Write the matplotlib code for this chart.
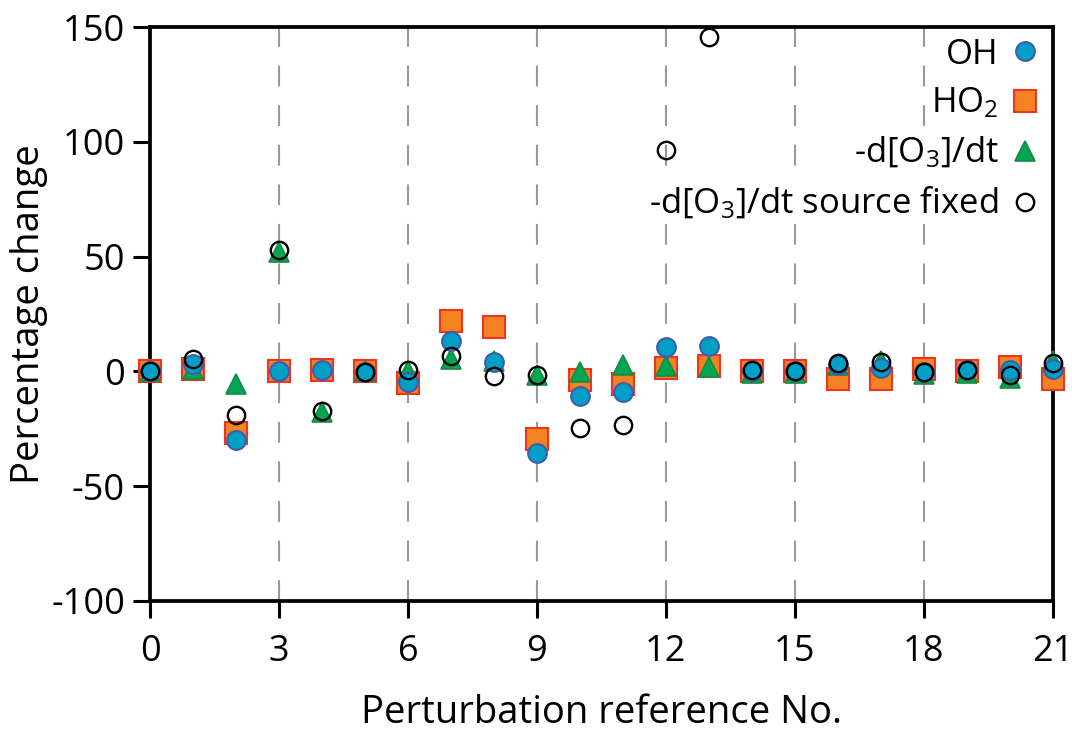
import numpy as np
import matplotlib.pyplot as plt

plt.rcParams['font.family'] = ['Open Sans', 'DejaVu Sans']
plt.rcParams['mathtext.fontset'] = 'custom'
plt.rcParams['mathtext.rm'] = 'Open Sans'
plt.rcParams['mathtext.it'] = 'Open Sans'
plt.rcParams['axes.unicode_minus'] = False

ref_no = np.arange(22)

oh = [0, 3.3, -30, 0, 0.4, -0.4, -4.5, 13.3, 4.3, -35.4, -10.5, -9, 10.6, 10.9,
      0.2, 0.2, 2.6, 1.3, -0.3, 0.4, 0.4, 1.2]
ho2 = [0, 1.2, -27, 0, 0.4, 0.2, -5, 21.8, 19.3, -29.3, -3.6, -5.4, 1.5, 2.3,
       0.2, 0.2, -3.2, -3.2, 1.1, 0.2, 1.9, -3.2]
o3_loss = [0, 1, -5.4, 52, -17.6, 0, 0.3, 5.5, 4.5, -1.7, -0.3, 2.6, 2.2, 2,
           -0.5, -0.5, 3, 4.5, -1, -0.5, -3, 4.5]
o3_loss_fixed = [0, 5.5, -19.2, 52.7, -17.4, -0.4, 0.8, 6.5, -2, -1.7, -24.7, -23.2, 96.3, 145.6,
                 0.4, 0.2, 3.8, 4, -0.3, 0.8, -1.7, 3.8]

fig = plt.figure(figsize=(10.72, 7.32), dpi=100)
ax = fig.add_axes([0.140, 0.179, 0.842, 0.784])

for xv in range(3, 21, 3):
    ax.axvline(xv, color='#999999', linewidth=1.5, dashes=(10, 9), zorder=0)

ax.plot(ref_no, ho2, 's', markersize=15.5, markerfacecolor='#F58220', markeredgecolor='#EE3524',
        markeredgewidth=1.5, linestyle='none', label='HO$_2$', zorder=3, clip_on=False)
ax.plot(ref_no, o3_loss, '^', markersize=15, markerfacecolor='#00A651', markeredgecolor='#178A45',
        markeredgewidth=1.2, linestyle='none', label='-d[O$_3$]/dt', zorder=4, clip_on=False)
ax.plot(ref_no, oh, 'o', markersize=13.5, markerfacecolor='#00A0C6', markeredgecolor='#3F5DAA',
        markeredgewidth=1.5, linestyle='none', label='OH', zorder=5, clip_on=False)
ax.plot(ref_no, o3_loss_fixed, 'o', markersize=12.5, markerfacecolor='none', markeredgecolor='black',
        markeredgewidth=1.7, linestyle='none', label='-d[O$_3$]/dt source fixed', zorder=6, clip_on=False)

ax.set_xlim(0, 21)
ax.set_ylim(-100, 150)
ax.set_xticks(range(0, 22, 3))
ax.set_yticks(range(-100, 151, 50))

for s in ax.spines.values():
    s.set_linewidth(2.7)
ax.tick_params(direction='out', length=12, width=2.2, labelsize=26)
ax.tick_params(axis='x', pad=12)
ax.tick_params(axis='y', pad=6)

ax.set_xlabel('Perturbation reference No.', fontsize=27.5, labelpad=17)
ax.set_ylabel('Percentage change', fontsize=27.5, labelpad=2)

handles, labels = ax.get_legend_handles_labels()
order = [2, 0, 1, 3]
leg = ax.legend([handles[i] for i in order], [labels[i] for i in order], loc='upper right',
                markerfirst=False, frameon=False, fontsize=25, handletextpad=0.25,
                handlelength=1.0, labelspacing=0.42, borderaxespad=0.2, borderpad=0.1)
for t in leg.get_texts():
    t.set_bbox(dict(facecolor='white', edgecolor='none', pad=1))
leg.set_zorder(2.8)

fig.savefig('out.png', dpi=100)
